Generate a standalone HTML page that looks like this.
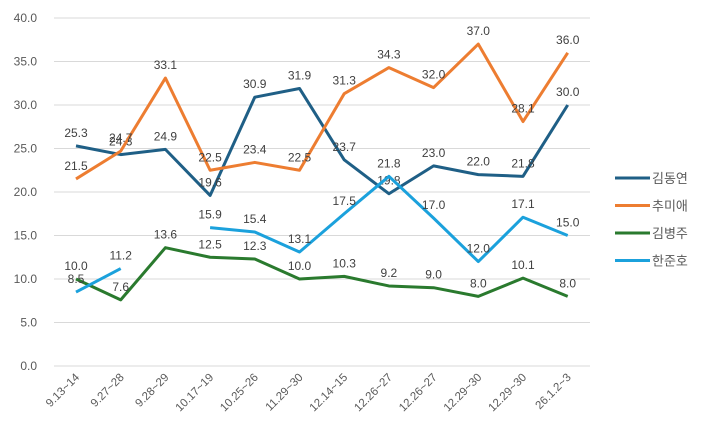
<!DOCTYPE html>
<html><head><meta charset="utf-8"><style>
body{margin:0;background:#fff;width:710px;height:437px;overflow:hidden}
text{font-family:"Liberation Sans","Noto Sans CJK KR",sans-serif}
</style></head><body>
<svg id="s" width="710" height="437" xmlns="http://www.w3.org/2000/svg"></svg>
<script>
const s=document.getElementById('s');
let h='';
const Y=v=>366-v*8.7, X=i=>76+i*44.7;
for(let v=0;v<=40;v+=5){h+=`<line x1="54" x2="590" y1="${Y(v)}" y2="${Y(v)}" stroke="#d9d9d9" stroke-width="1"/>`;
h+=`<text x="37" y="${Y(v)+4}" font-size="12" fill="#595959" text-anchor="end">${v.toFixed(1)}</text>`;}
const cats=['9.13~14','9.27~28','9.28~29','10.17~19','10.25~26','11.29~30','12.14~15','12.26~27','12.26~27','12.29~30','12.29~30','26.1.2~3'];
cats.forEach((c,i)=>{h+=`<text transform="translate(${X(i)+4},${378}) rotate(-45)" font-size="11.5" fill="#595959" text-anchor="end">${c}</text>`});
const S=[
['김동연','#1f5f86',[25.3,24.3,24.9,19.6,30.9,31.9,23.7,19.8,23.0,22.0,21.8,30.0]],
['추미애','#ed7d31',[21.5,24.7,33.1,22.5,23.4,22.5,31.3,34.3,32.0,37.0,28.1,36.0]],
['김병주','#2a7a2e',[10.0,7.6,13.6,12.5,12.3,10.0,10.3,9.2,9.0,8.0,10.1,8.0]],
['한준호','#1ba1dc',[8.5,11.2,null,15.9,15.4,13.1,17.5,21.8,17.0,12.0,17.1,15.0]]];
S.forEach(([n,c,d],k)=>{
 let p='',segs=[];d.forEach((v,i)=>{if(v==null){if(p)segs.push(p);p='';}else p+=(p?'L':'M')+X(i)+' '+Y(v);});if(p)segs.push(p);
 segs.forEach(q=>h+=`<path d="${q}" fill="none" stroke="${c}" stroke-width="3" stroke-linejoin="round"/>`);
 d.forEach((v,i)=>{if(v!=null)h+=`<text x="${X(i)}" y="${Y(v)-9}" font-size="12" fill="#404040" text-anchor="middle">${v.toFixed(1)}</text>`});
 const ly=178+k*27.5;
 h+=`<line x1="615" x2="650" y1="${ly}" y2="${ly}" stroke="${c}" stroke-width="3"/><text x="652" y="${ly+5}" font-size="13" fill="#595959">${n}</text>`;
});
s.innerHTML=h;
</script>
</body></html>
